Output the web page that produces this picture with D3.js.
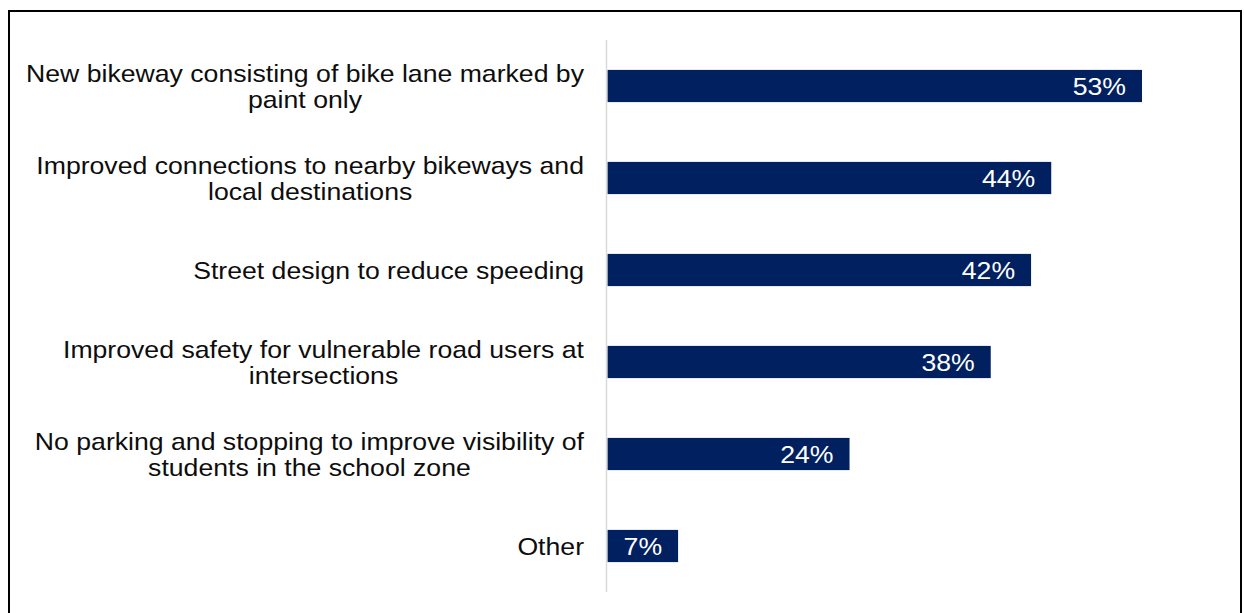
<!DOCTYPE html>
<html>
<head>
<meta charset="utf-8">
<script src="https://cdn.jsdelivr.net/npm/d3@7"></script>
<style>
  html, body { margin: 0; padding: 0; background: #fff; }
  svg { display: block; font-family: "Liberation Sans", Arial, sans-serif; }
</style>
</head>
<body>
<div id="chart"></div>
<script>
// categories, top to bottom (line breaks as in the original)
const categories = [
    "New bikeway consisting of bike lane marked by\npaint only",
    "Improved connections to nearby bikeways and\nlocal destinations",
    "Street design to reduce speeding",
    "Improved safety for vulnerable road users at\nintersections",
    "No parking and stopping to improve visibility of\nstudents in the school zone",
    "Other"
];
const shares = [53, 44, 42, 38, 24, 7];

function drawChart() {
    const width = 1244, height = 613;
    const barColor = "#002060";
    const stretch = 1.11; // the source text is a bit wider than plain Arial
    const labelRight = 584;

    const svg = d3.select("#chart")
        .append("svg")
        .attr("width", width)
        .attr("height", height);

    // frame around the chart
    svg.append("rect")
        .attr("x", 9)
        .attr("y", 11)
        .attr("width", 1232)
        .attr("height", 640)
        .attr("fill", "none")
        .attr("stroke", "#000")
        .attr("stroke-width", 2);

    const data = categories.map((c, i) => ({ label: c, value: shares[i] }));

    const x = d3.scaleLinear()
        .domain([0, 53])
        .range([607.5, 1142]);

    const y = d3.scaleBand()
        .domain(categories)
        .range([40, 592])
        .paddingInner(0.65)
        .paddingOuter(0.325);

    // bars
    svg.selectAll("rect.bar")
        .data(data)
        .join("rect")
        .attr("class", "bar")
        .attr("x", x(0))
        .attr("y", d => y(d.label))
        .attr("width", d => x(d.value) - x(0))
        .attr("height", y.bandwidth())
        .attr("fill", barColor);

    // category axis line
    svg.append("line")
        .attr("x1", 606.5)
        .attr("x2", 606.5)
        .attr("y1", 40)
        .attr("y2", 592)
        .attr("stroke", "#d9d9d9")
        .attr("stroke-width", 1.5);

    // category labels: block right-aligned, lines centred inside the block
    const labelGroups = svg.selectAll("g.cat")
        .data(data)
        .join("g")
        .attr("class", "cat")
        .attr("transform", d =>
            `translate(${labelRight},${y(d.label) + y.bandwidth() / 2}) scale(${stretch},1)`);

    labelGroups.each(function (d) {
        const g = d3.select(this);
        const lines = d.label.split("\n");
        const lh = 26.5;
        const start = -(lines.length - 1) * lh / 2;
        const text = g.append("text")
            .attr("text-anchor", "middle")
            .attr("fill", "#0d0d0d")
            .style("font-size", "24px");
        const spans = text.selectAll("tspan")
            .data(lines)
            .join("tspan")
            .attr("y", (l, i) => start + i * lh)
            .attr("dy", "0.37em")
            .text(l => l);
        let maxW = 0;
        spans.each(function () { maxW = Math.max(maxW, this.getComputedTextLength()); });
        spans.attr("x", -maxW / 2);
    });

    // value labels inside the bars
    svg.selectAll("g.val")
        .data(data)
        .join("g")
        .attr("class", "val")
        .attr("transform", d =>
            `translate(${x(d.value) - 16},${y(d.label) + y.bandwidth() / 2}) scale(${stretch},1)`)
        .append("text")
        .attr("dy", "0.37em")
        .attr("text-anchor", "end")
        .attr("fill", "#fff")
        .style("font-size", "24px")
        .text(d => d.value + "%");
}

drawChart();
</script>
</body>
</html>
